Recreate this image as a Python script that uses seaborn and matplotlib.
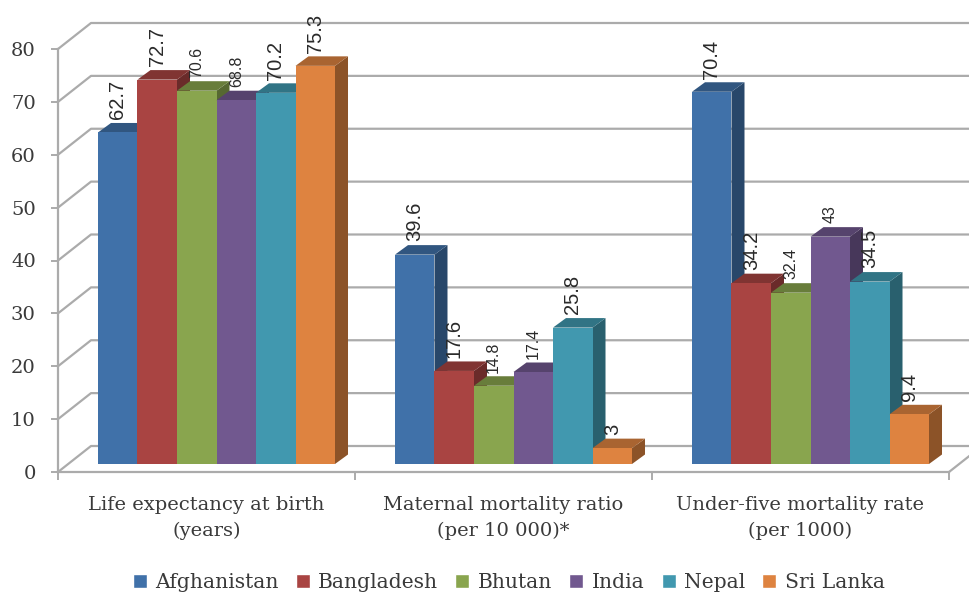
import matplotlib
matplotlib.use("Agg")
import matplotlib.pyplot as plt
import matplotlib.colors as mcolors
from matplotlib.patches import Polygon
import pandas as pd
import seaborn as sns

# Health indicators by country
indicators = ["Life expectancy at birth\n(years)",
              "Maternal mortality ratio\n(per 10 000)*",
              "Under-five mortality rate\n(per 1000)"]
countries = ["Afghanistan", "Bangladesh", "Bhutan", "India", "Nepal", "Sri Lanka"]
life_expectancy = [62.7, 72.7, 70.6, 68.8, 70.2, 75.3]
maternal_mortality = [39.6, 17.6, 14.8, 17.4, 25.8, 3]
under_five_mortality = [70.4, 34.2, 32.4, 43, 34.5, 9.4]
y_ticks = [0, 10, 20, 30, 40, 50, 60, 70, 80]

palette = ["#4071A9", "#A94442", "#89A54E", "#71588F", "#4198AF", "#DE8340"]
small_value_labels = {"70.6", "68.8", "14.8", "17.4", "32.4", "43"}

W, H = 969, 592
GRID = "#ABABAB"
TEXT = "#3A3A3A"

df = pd.DataFrame({
    "indicator": [i for i in indicators for _ in countries],
    "country": countries * len(indicators),
    "value": life_expectancy + maternal_mortality + under_five_mortality,
})

sns.set_theme(style="white")
plt.rcParams["font.family"] = ["DejaVu Serif"]

fig = plt.figure(figsize=(W / 100, H / 100), dpi=100)
fig.patch.set_facecolor("white")


def px_axes(x0, x1, y_bottom, y_top):
    return fig.add_axes([x0 / W, 1 - y_bottom / H, (x1 - x0) / W, (y_bottom - y_top) / H])


# Frame: y axis, floor edge, category labels and the receding back wall
frame = px_axes(58, 949, 472, 49)
frame.set_xlim(0, 3)
frame.set_ylim(0, 80)
for side in ("top", "right"):
    frame.spines[side].set_visible(False)
for side in ("left", "bottom"):
    frame.spines[side].set_color(GRID)
    frame.spines[side].set_linewidth(1.6)
frame.set_yticks(y_ticks)
frame.set_xticks(range(4))
frame.set_xticklabels([])
frame.set_xticks([0.5, 1.5, 2.5], minor=True)
frame.set_xticklabels(indicators, minor=True, fontsize=14, color=TEXT, linespacing=1.55)
frame.tick_params(axis="x", which="major", length=6, width=1.4, color=GRID)
frame.tick_params(axis="x", which="minor", length=0, pad=17)
frame.tick_params(axis="y", length=5, width=1.4, color=GRID, pad=11, labelsize=14, labelcolor=TEXT)
frame.tick_params(left=True, bottom=True, which="major")

wall_dx = 33 / 297
wall_dy = 26 / (423 / 80)
for t in y_ticks:
    frame.plot([0, wall_dx, 3 + wall_dx], [t, t + wall_dy, t + wall_dy],
               color=GRID, lw=1.6, clip_on=False, zorder=1)
frame.plot([3, 3 + wall_dx], [0, wall_dy], color=GRID, lw=1.6, clip_on=False, zorder=1)

# Bars sit slightly in from the front edge of the floor
ax = px_axes(68, 959, 464, 41)
sns.barplot(data=df, x="indicator", y="value", hue="country",
            order=indicators, hue_order=countries, palette=palette,
            saturation=1, width=0.798, gap=0, ax=ax)
ax.set_xlim(-0.5, 2.5)
ax.set_ylim(0, 80)
ax.axis("off")


def shade(color, factor):
    r, g, b = mcolors.to_rgb(color)
    return (r * factor, g * factor, b * factor)


# Extrude every bar into a block with a top and a side face
depth_x = 13 / 297
depth_y = 9.5 / (423 / 80)
for j, container in enumerate(ax.containers):
    color = palette[j]
    for bar in container:
        x0, x1 = bar.get_x(), bar.get_x() + bar.get_width()
        h = bar.get_height()
        bar.set_zorder(3 + j + 0.2)
        bar.set_edgecolor("none")
        top = Polygon([(x0, h), (x0 + depth_x, h + depth_y), (x1 + depth_x, h + depth_y), (x1, h)],
                      closed=True, fc=shade(color, 0.76), ec="none", zorder=3 + j, clip_on=False)
        right = Polygon([(x1, 0), (x1 + depth_x, depth_y), (x1 + depth_x, h + depth_y), (x1, h)],
                        closed=True, fc=shade(color, 0.63), ec="none", zorder=3 + j, clip_on=False)
        ax.add_patch(right)
        ax.add_patch(top)
    texts = ax.bar_label(container, fmt="%g", rotation=90, padding=9.5,
                         color="#2A2A2A", family="Liberation Sans", zorder=20)
    for label in texts:
        label.set_fontsize(11.5 if label.get_text() in small_value_labels else 14.5)
        label.set_horizontalalignment("center")

sns.move_legend(ax, "lower center", bbox_to_anchor=(0.4945, (464 - 610) / 423),
                ncol=6, frameon=False, title=None, fontsize=14.6,
                handlelength=0.7, handleheight=0.7, handletextpad=0.4, columnspacing=0.85,
                labelcolor=TEXT)

fig.savefig("out.png", dpi=100)
